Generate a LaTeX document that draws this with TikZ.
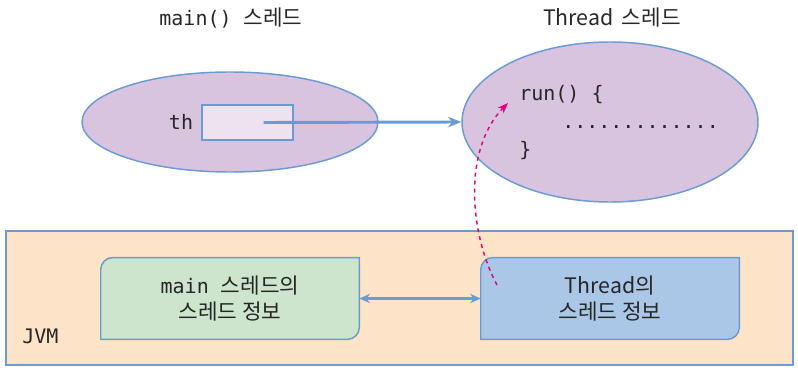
\documentclass[tikz,border=0pt]{standalone}
\usepackage{fontspec}
\setmainfont{Noto Sans CJK KR}
\newfontfamily\codefont{DejaVu Sans Mono}
\usepackage{tikz}
\usetikzlibrary{arrows.meta,backgrounds,positioning,shapes.geometric}

\begin{document}
\begin{tikzpicture}[x=0.75pt,y=-0.75pt,
  every node/.style={font=\fontsize{16}{20}\selectfont, text=black!85},
  code/.style={font=\fontsize{15}{19}\codefont, inner sep=0pt},
  thread/.style={ellipse, draw=edgecol, line width=1.1pt, fill=threadcol},
  infobox/.style={minimum width=193.5pt, minimum height=61pt, align=center}]
% Define colours
\definecolor{edgecol}{RGB}{106,155,213}
\definecolor{threadcol}{RGB}{217,196,224}
\definecolor{refcol}{RGB}{238,226,240}
\definecolor{jvmcol}{RGB}{253,228,201}
\definecolor{maincol}{RGB}{204,229,204}
\definecolor{infocol}{RGB}{171,199,232}
\definecolor{callcol}{RGB}{230,0,126}

\useasboundingbox (0,0) rectangle (798,370);

% Threads
\node at (231,18) {{\codefont\fontsize{15}{19}\selectfont main() }스레드};
\node at (612,18) {Thread\, 스레드};
\node[thread, minimum width=222pt, minimum height=75pt] (mainell) at (230,122) {};
\node[thread, minimum width=222pt, minimum height=120pt] (threadell) at (610,122) {};

\node[draw=edgecol, line width=1.1pt, fill=refcol, minimum width=68pt, minimum height=26pt] (thbox) at (247.5,122.5) {};
\node[code] (thlabel) at (181,122) {th};

\node[code, anchor=west] (runline) at (519,95) {run() \{};
\node[code, anchor=west] (dotline) at (562,127) {.............};
\node[code, anchor=west] (closeline) at (519,151) {\}};

% JVM area
\node[infobox] (maininfo) at (230,298.5) {{\codefont\fontsize{15}{19}\selectfont main }스레드의\\스레드 정보};
\node[infobox] (threadinfo) at (610,298.5) {Thread의\\스레드 정보};
\node[code, anchor=west] (jvmlabel) at (22,336) {JVM};

\begin{pgfonlayer}{background}
\node[draw=edgecol, line width=1.3pt, fill=jvmcol, minimum width=590pt, minimum height=100.5pt] (jvm) at (399.5,298) {};
\filldraw[draw=edgecol, line width=1.1pt, fill=maincol] (maininfo.south west) [rounded corners=9pt] -- (maininfo.north west) [sharp corners] -- (maininfo.north east) [rounded corners=9pt] -- (maininfo.south east) [sharp corners] -- cycle;
\filldraw[draw=edgecol, line width=1.1pt, fill=infocol] (threadinfo.south west) [rounded corners=9pt] -- (threadinfo.north west) [sharp corners] -- (threadinfo.north east) [rounded corners=9pt] -- (threadinfo.south east) [sharp corners] -- cycle;
\end{pgfonlayer}

% Connectors
\coordinate (callfrom) at (497,285);
\coordinate (callto) at (508,103);
\draw[edgecol, line width=2.2pt, -{Stealth[length=10pt, width=8pt]}] ([xshift=12pt]thbox.center) -- (threadell.west);
\draw[edgecol, line width=1.6pt, {Stealth[length=8pt, width=7pt]}-{Stealth[length=8pt, width=7pt]}] (maininfo.east) -- (threadinfo.west);
\draw[callcol, line width=1.1pt, dashed, -{Stealth[length=8pt, width=6pt]}] (callfrom) .. controls (470,235) and (462,150) .. (callto);
\end{tikzpicture}
\end{document}
